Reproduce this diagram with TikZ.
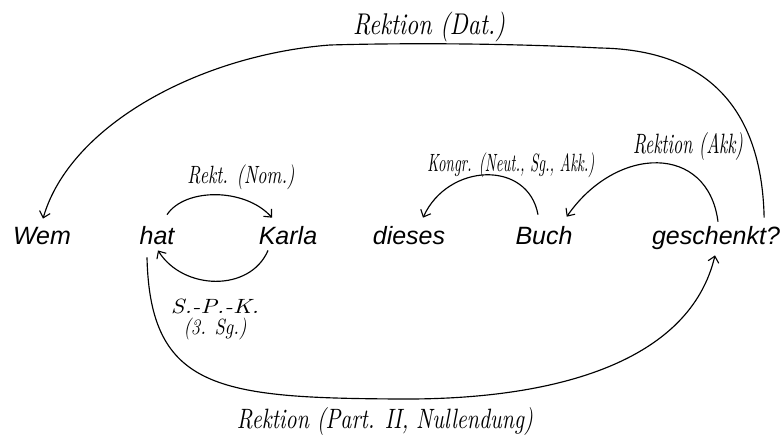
\documentclass[tikz,border=0pt]{standalone}
\usepackage{fontspec}
\usepackage{graphicx}
\usetikzlibrary{arrows.meta}
\newfontfamily\wordfont{Liberation Sans}
\newcommand{\hwlabel}[3]{\resizebox*{#1pt}{#2pt}{\itshape #3}}
\begin{document}
\begin{tikzpicture}[x=1pt,y=-1pt,
  word/.style={font=\wordfont\itshape\fontsize{25}{30}\selectfont, inner sep=0pt, anchor=base},
  lab/.style={inner sep=0pt, align=center},
  rel/.style={line width=1.15pt, -{Straight Barb[length=6pt,width=11pt,line width=1.1pt]}}]
\useasboundingbox (0,0) rectangle (784,442);
\fill[white] (0,0) rectangle (784,442);
% words
\node[word] (wem)    at (42,244)  {Wem};
\node[word] (hat)    at (157,244) {hat};
\node[word] (karla)  at (288,244) {Karla};
\node[word] (dieses) at (409,244) {dieses};
\node[word] (buch)   at (544,244) {Buch};
\node[word] (gesch)  at (716,244) {geschenkt?};
% labels
\node[lab] (ldat)  at (429,27)  {\hwlabel{152}{30}{Rektion (Dat.)}};
\node[lab] (lnom)  at (241,177) {\hwlabel{107}{25}{Rekt. (Nom.)}};
\node[lab] (lspk)  at (215,319) {\hwlabel{88}{15}{S.-P.-K.}\\[3pt]\hwlabel{63}{22}{(3. Sg.)}};
\node[lab] (lkon)  at (511,165) {\hwlabel{167}{25}{Kongr. (Neut., Sg., Akk.)}};
\node[lab] (lakk)  at (688,146) {\hwlabel{110}{28}{Rektion (Akk)}};
\node[lab] (lpart) at (385,421) {\hwlabel{296}{28}{Rektion (Part. II, Nullendung)}};
% connectors
\draw[rel] ([xshift=10pt,yshift=11pt]hat.north) .. controls +(18,-27) and +(-27,-30) .. ([xshift=-16pt,yshift=8pt]karla.north);
\draw[rel] ([xshift=-20pt,yshift=-6pt]karla.south) .. controls +(-18,42) and +(25,40) .. ([xshift=1pt,yshift=-6pt]hat.south);
\draw[rel] ([xshift=-6pt,yshift=11pt]buch.north) .. controls +(-10,-55) and +(25,-55) .. ([xshift=14pt,yshift=8pt]dieses.north);
\draw[rel] ([xshift=2pt,yshift=4pt]gesch.north) .. controls +(-10,-78) and +(50,-72) .. ([xshift=-6pt,yshift=9pt]buch.north east);
\draw[rel] ([xshift=-16pt,yshift=8pt]gesch.north east) .. controls +(-2,-95) and (720,50) .. (600,48)
   .. controls (500,43) and (400,43) .. (330,45)
   .. controls (200,55) and (70,125) .. ([xshift=1pt,yshift=8pt]wem.north);
\draw[rel] ([xshift=-10pt,yshift=-13pt]hat.south) .. controls (150,390) and (220,398) .. (400,399)
   .. controls (560,400) and (690,360) .. ([xshift=-1pt,yshift=-6pt]gesch.south);
\end{tikzpicture}
\end{document}
